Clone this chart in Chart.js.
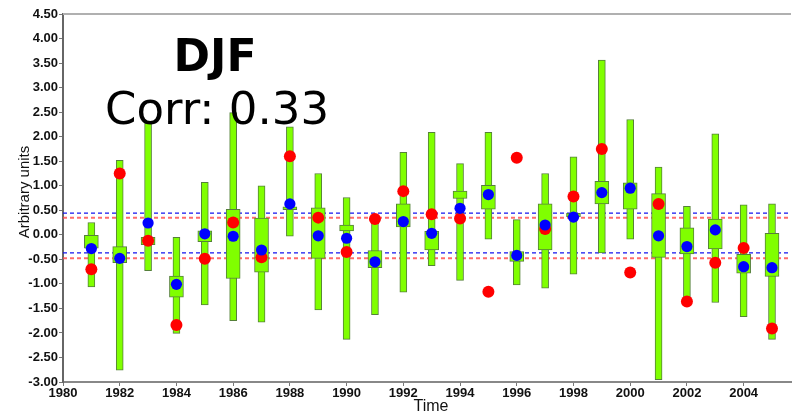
<!DOCTYPE html>
<html>
<head>
<meta charset="utf-8">
<script src="https://cdn.jsdelivr.net/npm/chart.js@4"></script>
<style>
  html, body { margin: 0; padding: 0; background: #fff; }
  #wrap { width: 792px; height: 412px; position: relative; }
</style>
</head>
<body>
<div id="wrap"><canvas id="chart" width="792" height="412"></canvas></div>
<script>
// Winter (DJF) ensemble spread per year versus observed anomaly
const years = [1981, 1982, 1983, 1984, 1985, 1986, 1987, 1988, 1989, 1990,
               1991, 1992, 1993, 1994, 1995, 1996, 1997, 1998, 1999, 2000,
               2001, 2002, 2003, 2004, 2005];
const ensembleMax = [0.25, 1.52, 2.28, -0.05, 1.07, 2.49, 1.00, 2.20, 1.25, 0.76,
                     0.30, 1.68, 2.09, 1.45, 2.09, 0.31, 1.25, 1.59, 3.56, 2.35,
                     1.38, 0.58, 2.06, 0.61, 0.63];
const ensembleMin = [-1.06, -2.76, -0.73, -2.01, -1.43, -1.75, -1.78, -0.03, -1.53, -2.13,
                     -1.63, -1.17, -0.63, -0.93, -0.09, -1.02, -1.09, -0.80, -0.37, -0.09,
                     -2.95, -1.36, -1.38, -1.67, -2.13];
const upperQuartile = [0.00, -0.24, -0.05, -0.84, 0.08, 0.52, 0.34, 0.57, 0.55, 0.20,
                       -0.32, 0.63, 0.07, 0.89, 1.01, -0.34, 0.63, 0.44, 1.09, 1.06,
                       0.84, 0.14, 0.32, -0.40, 0.03];
const lowerQuartile = [-0.27, -0.57, -0.20, -1.27, -0.14, -0.89, -0.76, 0.51, -0.48, 0.08,
                       -0.67, 0.16, -0.31, 0.74, 0.52, -0.54, -0.31, 0.37, 0.63, 0.52,
                       -0.46, -0.39, -0.29, -0.78, -0.85];
const ensembleMean = [-0.28, -0.48, 0.24, -1.01, 0.02, -0.03, -0.31, 0.63, -0.02, -0.07,
                      -0.55, 0.27, 0.03, 0.54, 0.82, -0.42, 0.20, 0.36, 0.86, 0.95,
                      -0.02, -0.24, 0.10, -0.65, -0.67];
const observed = [-0.70, 1.25, -0.12, -1.84, -0.49, 0.25, -0.46, 1.60, 0.35, -0.35,
                  0.32, 0.89, 0.42, 0.33, -1.16, 1.57, 0.12, 0.78, 1.75, -0.77,
                  0.63, -1.36, -0.57, -0.27, -1.91];

// Tercile boundaries (lower, upper) for the model and the observations
const modelTerciles = [-0.37, 0.44];
const obsTerciles = [-0.48, 0.35];

const xTicks = [1980, 1982, 1984, 1986, 1988, 1990, 1992, 1994, 1996, 1998, 2000, 2002, 2004];
const yTicks = [-3.0, -2.5, -2.0, -1.5, -1.0, -0.5, 0.0, 0.5, 1.0, 1.5, 2.0, 2.5, 3.0, 3.5, 4.0, 4.5];
const xMin = 1980, xMax = 2005.67;
const seasonLabel = 'DJF';
const corrLabel = 'Corr: 0.33';
const xTitle = 'Time';
const yTitle = 'Arbitrary units';

const GREEN = '#80ff00';
const GREEN_EDGE = '#55803a';

function hLine(v) {
  return [{ x: xMin, y: v }, { x: xMax, y: v }];
}

const datasets = [];
obsTerciles.forEach(v => datasets.push({
  type: 'line', data: hLine(v), borderColor: 'rgba(255,70,70,0.8)', borderWidth: 2,
  borderDash: [4, 3], pointRadius: 0, order: 60
}));
modelTerciles.forEach(v => datasets.push({
  type: 'line', data: hLine(v), borderColor: '#1515ee', borderWidth: 1.2,
  borderDash: [4, 3], pointRadius: 0, order: 55
}));
datasets.push({
  type: 'bar',
  data: years.map((yr, i) => ({ x: yr, y: [ensembleMin[i], ensembleMax[i]] })),
  backgroundColor: GREEN, borderColor: GREEN_EDGE, borderWidth: 1,
  borderSkipped: false, barThickness: 7, grouped: false, order: 40
});
datasets.push({
  type: 'bar',
  data: years.map((yr, i) => ({ x: yr, y: [lowerQuartile[i], upperQuartile[i]] })),
  backgroundColor: GREEN, borderColor: GREEN_EDGE, borderWidth: 1,
  borderSkipped: false, barThickness: 14, grouped: false, order: 30
});
datasets.push({
  type: 'scatter',
  data: years.map((yr, i) => ({ x: yr, y: observed[i] })),
  backgroundColor: '#ff0000', borderWidth: 0, pointRadius: 6, order: 20
});
datasets.push({
  type: 'scatter',
  data: years.map((yr, i) => ({ x: yr, y: ensembleMean[i] })),
  backgroundColor: '#0000ff', borderWidth: 0, pointRadius: 5.6, order: 10
});

// Frame line along the top of the plot, axis titles and the in-plot labels
const annotations = {
  id: 'annotations',
  afterDraw(chart) {
    const { ctx, chartArea } = chart;
    ctx.save();
    ctx.strokeStyle = '#b0b0b0';
    ctx.lineWidth = 2;
    ctx.beginPath();
    ctx.moveTo(chartArea.left, chartArea.top);
    ctx.lineTo(chartArea.right, chartArea.top);
    ctx.stroke();

    ctx.fillStyle = '#000';
    ctx.textBaseline = 'alphabetic';
    ctx.textAlign = 'center';
    ctx.font = 'bold 44px "DejaVu Sans"';
    ctx.fillText(seasonLabel, 215, 71);
    ctx.textAlign = 'left';
    ctx.font = '45px "DejaVu Sans"';
    ctx.fillText(corrLabel, 105, 124);

    ctx.fillStyle = '#111';
    ctx.textAlign = 'center';
    ctx.font = '16px "Liberation Sans"';
    ctx.fillText(xTitle, 431, 411);
    ctx.translate(29, 192);
    ctx.rotate(-Math.PI / 2);
    ctx.font = '15px "Liberation Sans"';
    ctx.fillText(yTitle, 0, 0);
    ctx.restore();
  }
};

new Chart(document.getElementById('chart'), {
  data: { datasets },
  plugins: [annotations],
  options: {
    responsive: false,
    animation: false,
    layout: { autoPadding: false, padding: { top: 14, right: 1, left: 0, bottom: 0 } },
    plugins: { legend: { display: false }, tooltip: { enabled: false } },
    scales: {
      x: {
        type: 'linear', min: xMin, max: xMax, offset: false,
        afterBuildTicks: axis => { axis.ticks = xTicks.map(v => ({ value: v })); },
        afterFit: axis => { axis.height = 30; axis.paddingLeft = 0; axis.paddingRight = 0; },
        grid: { drawOnChartArea: false, offset: false, tickLength: 4, tickColor: '#777' },
        border: { color: '#888', width: 2 },
        ticks: { color: '#111', font: { family: 'Liberation Sans', size: 13, weight: 'bold' },
                 padding: 0, maxRotation: 0, autoSkip: false, callback: v => String(v) }
      },
      y: {
        type: 'linear', min: -3, max: 4.5,
        afterBuildTicks: axis => { axis.ticks = yTicks.map(v => ({ value: v })); },
        afterFit: axis => { axis.width = 63; axis.paddingTop = 0; axis.paddingBottom = 0; },
        grid: { drawOnChartArea: false, offset: false, tickLength: 4, tickColor: '#777' },
        border: { color: '#666', width: 2 },
        ticks: { color: '#111', font: { family: 'Liberation Sans', size: 13, weight: 'bold' },
                 padding: 1, callback: v => Number(v).toFixed(2) }
      }
    }
  }
});
</script>
</body>
</html>
